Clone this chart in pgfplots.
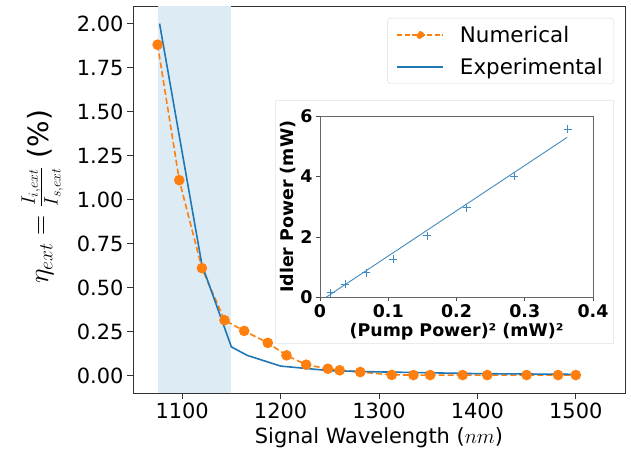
\RequirePackage{fix-cm}
\documentclass[border=0pt]{standalone}
\usepackage{pgfplots}
\pgfplotsset{compat=1.18}
\usepackage{fontspec}
\setmainfont{DejaVu Sans}
\definecolor{mplorange}{RGB}{255,127,14}
\definecolor{mplblue}{RGB}{31,119,180}
\definecolor{spanblue}{RGB}{221,235,244}
\begin{document}
\begin{tikzpicture}
\begin{axis}[
  at={(0bp,0bp)}, anchor=south west,
  scale only axis, width=492bp, height=387bp,
  xmin=1050, xmax=1550, ymin=-0.1, ymax=2.1,
  xtick={1100,1200,1300,1400,1500},
  ytick={0,0.25,0.5,0.75,1,1.25,1.5,1.75,2},
  /pgf/number format/assume math mode=true,
  xticklabel style={/pgf/number format/1000 sep={}},
  yticklabel style={/pgf/number format/fixed, /pgf/number format/fixed zerofill, /pgf/number format/precision=2},
  tick label style={font=\fontsize{21}{25}\selectfont},
  tick align=outside, major tick length=6bp,
  tick style={black!80, line width=0.8pt},
  axis line style={black!80, line width=0.8pt},
  xtick pos=bottom, ytick pos=left,
  xlabel={Signal Wavelength ($nm$)},
  xlabel style={font=\fontsize{21}{25}\selectfont, yshift=-2bp},
  ylabel={$\eta_{ext} = \frac{I_{i,ext}}{I_{s,ext}}$ (\%)},
  ylabel style={font=\fontsize{28}{32}\selectfont, at={(axis description cs:-0.184,0.507)}, anchor=center},
  legend style={at={(1,1)}, anchor=north east, xshift=-11bp, yshift=-12bp,
    draw=black!15, rounded corners=3pt, font=\fontsize{21.5}{25}\selectfont,
    inner xsep=9bp, inner ysep=6bp, row sep=10bp, column sep=14bp},
  legend cell align=left,
]
\addplot[fill=spanblue, draw=none, forget plot] coordinates {(1075,-0.1) (1150,-0.1) (1150,2.1) (1075,2.1)} -- cycle;
\addplot[mplorange, line width=1.6pt, dash pattern=on 6pt off 3pt, mark=*, mark size=4.5pt, mark options={solid},
  legend image code/.code={\draw[mplorange,line width=1.4pt,dash pattern=on 5pt off 2.5pt] (0bp,0bp) -- (46bp,0bp); \fill[mplorange] (23bp,0bp) circle (3.2bp);}] coordinates {
(1075,1.88) (1097,1.11) (1120,0.61) (1143,0.314) (1163,0.253) (1187,0.185) (1206,0.114) (1226,0.061)
(1248,0.038) (1260,0.029) (1281,0.019) (1313,0.003) (1335,0.002) (1352,0.002) (1385,0.002) (1410,0.002)
(1450,0.002) (1482,0.002) (1500,0.002)};
\addlegendentry{Numerical}
\addplot[mplblue, line width=1.6pt,
  legend image code/.code={\draw[mplblue,line width=1.4pt] (0bp,0bp) -- (46bp,0bp);}] coordinates {
(1077,2.0) (1120,0.63) (1150,0.162) (1166,0.114) (1200,0.053) (1250,0.027) (1300,0.02) (1400,0.01) (1500,0.006)};
\addlegendentry{Experimental}
\end{axis}
\fill[white, draw=black!8] (142bp,50bp) rectangle (480bp,293bp);
\begin{axis}[
  at={(187bp,95.7bp)}, anchor=south west,
  scale only axis, width=273bp, height=181bp,
  xmin=0, xmax=0.4, ymin=0, ymax=6,
  xtick={0,0.1,0.2,0.3,0.4}, ytick={0,2,4,6},
  /pgf/number format/assume math mode=true,
  tick label style={font=\fontsize{17.5}{20}\selectfont\bfseries},
  tick align=outside, major tick length=4bp,
  tick style={black!70, line width=0.6pt},
  axis line style={black!60, line width=0.6pt},
  xtick pos=bottom, ytick pos=left,
  xlabel={(Pump Power)² (mW)²},
  ylabel={Idler Power (mW)},
  label style={font=\fontsize{17.5}{20}\selectfont\bfseries},
  xlabel style={yshift=2bp},
  ylabel style={yshift=-2bp},
]
\addplot[only marks, mark=+, mark size=4pt, color=mplblue!85, line width=0.6pt] coordinates {
(0.0156,0.15) (0.0366,0.44) (0.068,0.82) (0.107,1.27) (0.157,2.04) (0.215,2.97) (0.284,4.02) (0.363,5.58)};
\addplot[color=mplblue!85, line width=0.9pt] coordinates {(0.0088,0) (0.362,5.3)};
\node[anchor=south west, font=\fontsize{15}{18}\selectfont\bfseries, inner sep=1pt] at (rel axis cs:0,1) {1e$-$5};
\end{axis}
\pgfresetboundingbox
\path (-133bp,-67bp) rectangle (498bp,393bp);
\end{tikzpicture}
\end{document}
